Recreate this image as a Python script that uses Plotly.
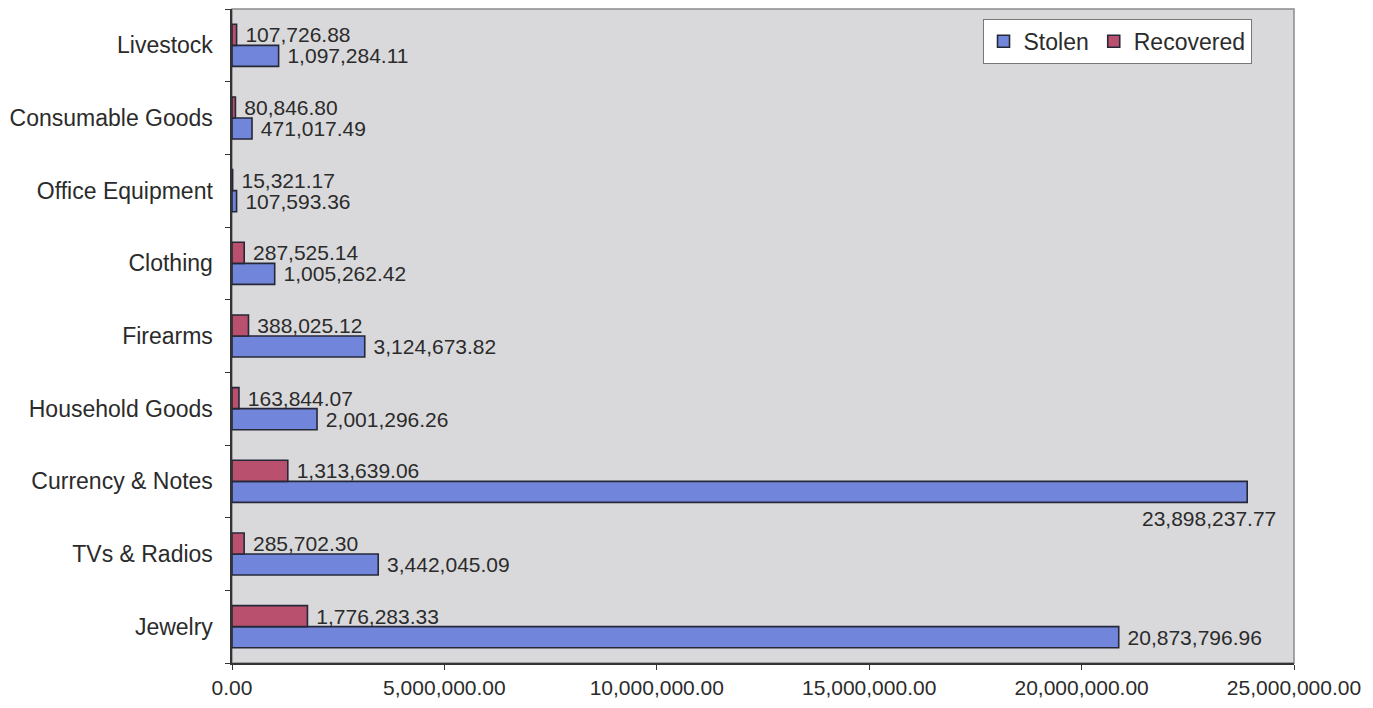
import plotly.graph_objects as go

categories = ["Jewelry", "TVs & Radios", "Currency & Notes", "Household Goods",
              "Firearms", "Clothing", "Office Equipment", "Consumable Goods", "Livestock"]
stolen = [20873796.96, 3442045.09, 23898237.77, 2001296.26, 3124673.82,
          1005262.42, 107593.36, 471017.49, 1097284.11]
recovered = [1776283.33, 285702.30, 1313639.06, 163844.07, 388025.12,
             287525.14, 15321.17, 80846.80, 107726.88]
x_ticks = [0, 5000000, 10000000, 15000000, 20000000, 25000000]

FONT = "Liberation Sans, Arial, sans-serif"
TXT = "#2b2b2b"
NUM_SIZE = 21
CAT_SIZE = 23

# label below bar end for the longest bar (as in the reference)
imax = stolen.index(max(stolen))
stolen_pos = ["outside"] * len(stolen)
stolen_pos[imax] = "none"

fig = go.Figure()
fig.add_trace(go.Bar(
    y=categories, x=stolen, orientation="h", name="Stolen",
    marker=dict(color="#7186DA", line=dict(color="#262838", width=1.6)),
    text=["\u00a0" + f"{v:,.2f}" for v in stolen], textposition=stolen_pos,
    textfont=dict(family=FONT, size=NUM_SIZE, color=TXT),
    constraintext="none", cliponaxis=False,
))
fig.add_trace(go.Bar(
    y=categories, x=recovered, orientation="h", name="Recovered",
    marker=dict(color="#B9506D", line=dict(color="#262838", width=1.6)),
    text=["\u00a0" + f"{v:,.2f}" for v in recovered], textposition="outside",
    textfont=dict(family=FONT, size=NUM_SIZE, color=TXT),
    constraintext="none", cliponaxis=False,
))

fig.add_annotation(
    x=stolen[imax], y=categories[imax], text=f"{stolen[imax]:,.2f}",
    showarrow=False, xanchor="right", xshift=31, yshift=-37,
    font=dict(family=FONT, size=NUM_SIZE, color=TXT),
)

fig.add_shape(type="rect", xref="paper", yref="paper", x0=0, x1=1, y0=0, y1=1,
              line=dict(color="#8a8a8a", width=1.5), layer="below")

fig.update_layout(
    width=1365, height=700,
    margin=dict(l=224, r=79, t=1, b=45),
    paper_bgcolor="white", plot_bgcolor="#D9D9DC",
    barmode="group", bargap=0.42, bargroupgap=0,
    font=dict(family=FONT, size=NUM_SIZE, color=TXT),
    showlegend=True,
    legend=dict(orientation="h", x=0.96, xanchor="right", y=0.985, yanchor="top",
                bgcolor="white", bordercolor="#777", borderwidth=1,
                font=dict(family=FONT, size=CAT_SIZE, color=TXT),
                itemwidth=30, tracegroupgap=0),
    xaxis=dict(range=[0, 25000000], tickvals=x_ticks, tickformat=",.2f",
               showgrid=False, zeroline=False, showline=True, linecolor="#333",
               linewidth=1.5, ticks="outside", ticklen=5, tickcolor="#333",
               tickfont=dict(family=FONT, size=NUM_SIZE, color=TXT)),
    yaxis=dict(categoryorder="array", categoryarray=categories,
               showgrid=False, showline=True, linecolor="#333", linewidth=1.5,
               ticks="outside", tickson="boundaries", ticklen=5, tickcolor="#333",
               tickfont=dict(family=FONT, size=CAT_SIZE, color=TXT), ticksuffix="  "),
)

fig.write_html("out.html")
